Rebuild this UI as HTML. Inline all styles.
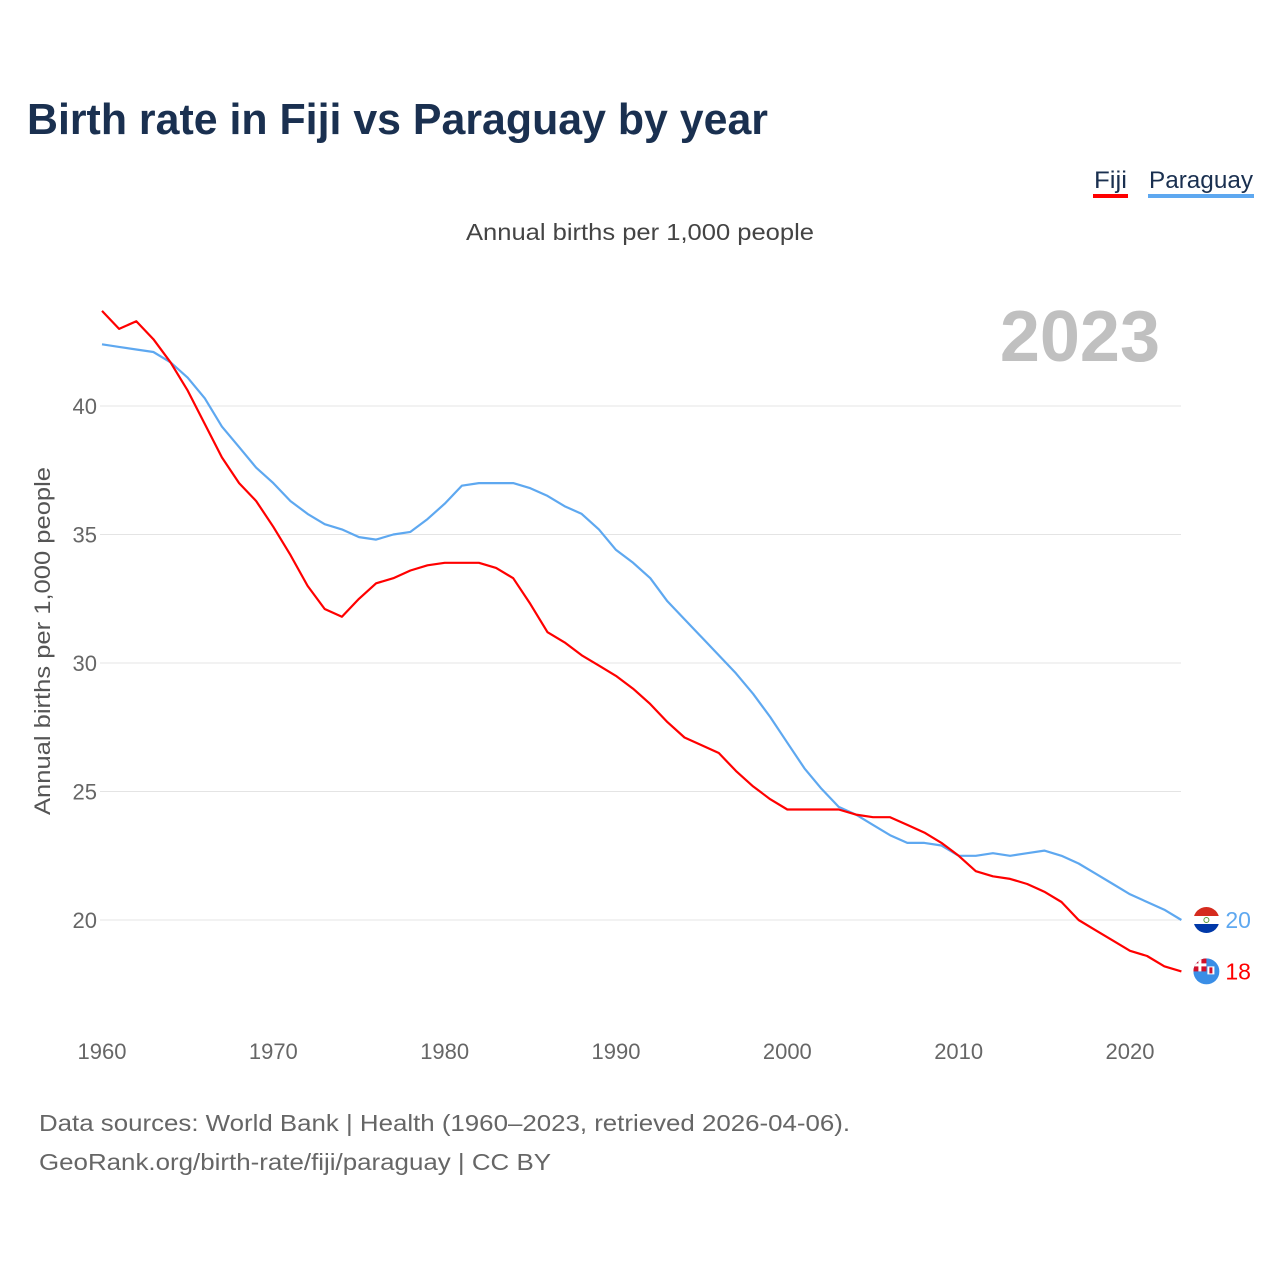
<!DOCTYPE html>
<html><head><meta charset="utf-8">
<style>
body{margin:0;background:#fff;font-family:"Liberation Sans",sans-serif;}
#wrap{position:relative;width:1280px;height:1280px;overflow:hidden;}
</style></head>
<body>
<div id="wrap">
<svg id="chart" width="1280" height="1280" xmlns="http://www.w3.org/2000/svg">
<defs>
<clipPath id="cpP"><circle cx="0" cy="0" r="13"/></clipPath>
<clipPath id="cpF"><circle cx="0" cy="0" r="13"/></clipPath>
</defs>
<text x="27" y="134" font-size="44" font-weight="bold" fill="#1a3050" textLength="741" lengthAdjust="spacingAndGlyphs">Birth rate in Fiji vs Paraguay by year</text>
<g>
<text x="1094" y="188" font-size="24" fill="#1a3050" textLength="33" lengthAdjust="spacingAndGlyphs">Fiji</text>
<rect x="1093" y="194" width="35" height="4" fill="#ff0000"/>
</g>
<g>
<text x="1149" y="188" font-size="24" fill="#1a3050" textLength="104" lengthAdjust="spacingAndGlyphs">Paraguay</text>
<rect x="1148" y="194" width="106" height="4" fill="#5ea8f0"/>
</g>
<text x="466" y="240" font-size="23" fill="#444" textLength="348" lengthAdjust="spacingAndGlyphs">Annual births per 1,000 people</text>
<text x="1160" y="361" font-size="72" font-weight="bold" fill="#c0c0c0" text-anchor="end">2023</text>
<text transform="translate(50,815) rotate(-90)" font-size="22" fill="#555" textLength="348" lengthAdjust="spacingAndGlyphs">Annual births per 1,000 people</text>
<g id="grid"></g>
<g id="xticks"></g>
<g id="lines"></g>
<text x="39" y="1131" font-size="23" fill="#666" textLength="811" lengthAdjust="spacingAndGlyphs">Data sources: World Bank | Health (1960–2023, retrieved 2026-04-06).</text>
<text x="39" y="1170" font-size="23" fill="#666" textLength="512" lengthAdjust="spacingAndGlyphs">GeoRank.org/birth-rate/fiji/paraguay | CC BY</text>
</svg>
</div>
<script>
const years = Array.from({length:64},(_,i)=>1960+i);
const fiji = [43.7,43.0,43.3,42.6,41.7,40.6,39.3,38.0,37.0,36.3,35.3,34.2,33.0,32.1,31.8,32.5,33.1,33.3,33.6,33.8,33.9,33.9,33.9,33.7,33.3,32.3,31.2,30.8,30.3,29.9,29.5,29.0,28.4,27.7,27.1,26.8,26.5,25.8,25.2,24.7,24.3,24.3,24.3,24.3,24.1,24.0,24.0,23.7,23.4,23.0,22.5,21.9,21.7,21.6,21.4,21.1,20.7,20.0,19.6,19.2,18.8,18.6,18.2,18.0];
const paraguay = [42.4,42.3,42.2,42.1,41.7,41.1,40.3,39.2,38.4,37.6,37.0,36.3,35.8,35.4,35.2,34.9,34.8,35.0,35.1,35.6,36.2,36.9,37.0,37.0,37.0,36.8,36.5,36.1,35.8,35.2,34.4,33.9,33.3,32.4,31.7,31.0,30.3,29.6,28.8,27.9,26.9,25.9,25.1,24.4,24.1,23.7,23.3,23.0,23.0,22.9,22.5,22.5,22.6,22.5,22.6,22.7,22.5,22.2,21.8,21.4,21.0,20.7,20.4,20.0];
const yTicks = [20,25,30,35,40];
const xTicks = [1960,1970,1980,1990,2000,2010,2020];

const NS="http://www.w3.org/2000/svg";
const xs = y => 102 + (y-1960)*(1028/60);
const ys = v => 920 - (v-20)*25.7;
function mk(tag,attrs,parent){const e=document.createElementNS(NS,tag);for(const k in attrs)e.setAttribute(k,attrs[k]);parent.appendChild(e);return e;}
const grid=document.getElementById('grid');
yTicks.forEach(t=>{
  const l=mk('line',{x1:100,x2:1181,y1:ys(t),y2:ys(t),stroke:'#e4e4e4','stroke-width':1},grid);
  
  
  const tx=mk('text',{x:97,y:ys(t)+8,'font-size':22,fill:'#666','text-anchor':'end'},grid);
  tx.textContent=t;
  
  
});
const xt=document.getElementById('xticks');
xTicks.forEach(t=>{
  const tx=mk('text',{x:xs(t),y:1059,'font-size':22,fill:'#666','text-anchor':'middle'},xt);
  tx.textContent=t;
  
  
});
const lines=document.getElementById('lines');
function series(data,color,name){
  const d=data.map((v,i)=>(i?'L':'M')+xs(years[i]).toFixed(1)+','+ys(v).toFixed(1)).join(' ');
  const p=mk('path',{d:d,fill:'none',stroke:color,'stroke-width':2.2,'stroke-linejoin':'round'},lines);
  
  
  const last=data[data.length-1], lx=xs(years[years.length-1]);
  const g=mk('g',{transform:'translate('+(lx+25)+','+ys(last)+')'},lines);
  
  
  if(name==='paraguay'){
    const f=mk('g',{'clip-path':'url(#cpP)'},g);
    mk('rect',{x:-13,y:-13,width:26,height:9,fill:'#d52b1e'},f);
    mk('rect',{x:-13,y:-4,width:26,height:8,fill:'#ffffff'},f);
    mk('rect',{x:-13,y:4,width:26,height:9,fill:'#0038a8'},f);
    mk('circle',{cx:0,cy:0,r:2.5,fill:'none',stroke:'#5a9a3a','stroke-width':1},f);
  } else {
    const f=mk('g',{'clip-path':'url(#cpF)'},g);
    mk('rect',{x:-13,y:-13,width:26,height:26,fill:'#3a8ee6'},f);
    mk('rect',{x:-13,y:-13,width:13,height:13,fill:'#d0102a'},f);
    mk('rect',{x:-13,y:-8,width:13,height:3,fill:'#ffffff'},f);
    mk('rect',{x:-8,y:-13,width:3,height:13,fill:'#ffffff'},f);
    mk('rect',{x:1,y:-5,width:7,height:8,fill:'#ffffff'},f);
    mk('rect',{x:3,y:-4,width:3,height:6,fill:'#d0102a'},f);
  }
  const t=mk('text',{x:lx+44,y:ys(last)+8,'font-size':23,fill:color},lines);
  t.textContent=Math.round(last);
  
  
}
series(paraguay,'#5ea8f0','paraguay');
series(fiji,'#ff0000','fiji');
</script>
</body></html>
